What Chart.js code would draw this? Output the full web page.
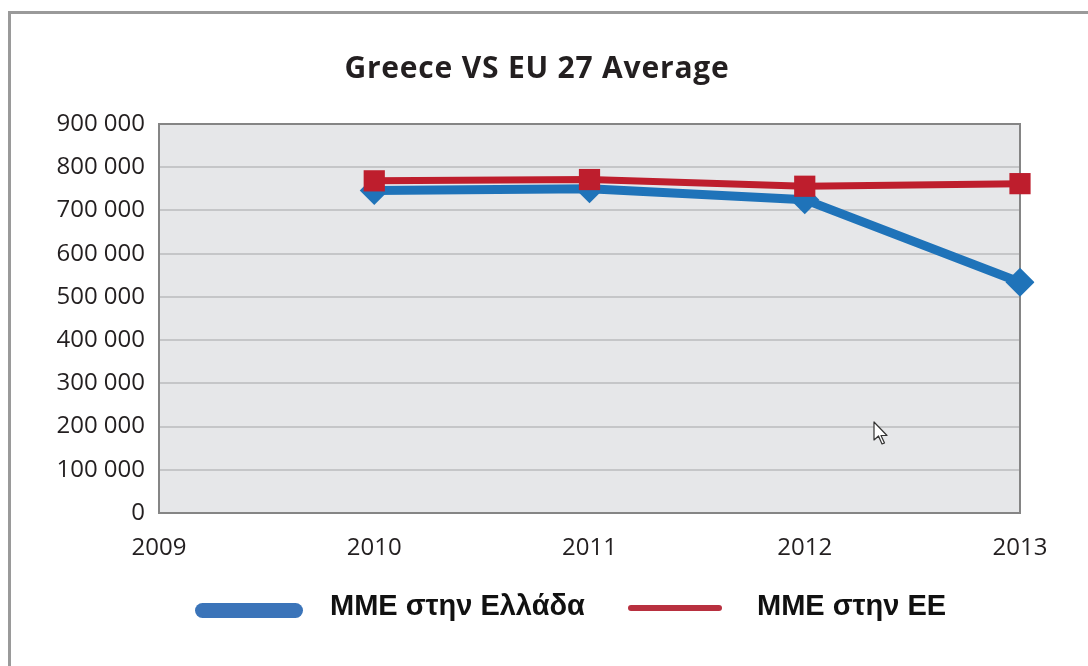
<!DOCTYPE html>
<html>
<head>
<meta charset="utf-8">
<script src="https://cdn.jsdelivr.net/npm/chart.js@4"></script>
<style>
  html, body { margin: 0; padding: 0; background: #fff; overflow: hidden; }
  #wrap { position: relative; width: 1088px; height: 666px; }
  #frame { position: absolute; left: 8px; top: 11px; width: 1100px; height: 700px;
           border: 3px solid #9a9a9a; box-sizing: border-box; }
  #chart { position: absolute; left: 0; top: 0; }
  #title { position: absolute; left: 0; width: 1074px; top: 49px; text-align: center;
           font-family: "Open Sans", sans-serif; font-weight: bold; font-size: 30px;
           letter-spacing: 0.8px; color: #231f20; line-height: 1.2; white-space: nowrap; }
  .legend-item { position: absolute; font-family: "Liberation Sans", Arial, sans-serif;
                 font-weight: bold; font-size: 29px; color: #111; line-height: 1; white-space: nowrap; }
  .legend-swatch { position: absolute; }
  #cursor { position: absolute; left: 872px; top: 420px; }
</style>
</head>
<body>
<div id="wrap">
  <div id="frame"></div>
  <canvas id="chart" width="1088" height="666"></canvas>
  <div id="title">Greece VS EU 27 Average</div>
  <div id="legend"></div>
  <svg id="cursor" width="20" height="28" viewBox="0 0 20 28">
    <path d="M2 2 L2 20 L6.5 16 L10 24 L12.5 23 L9 15.5 L15 15.5 Z" fill="#fff" stroke="#333" stroke-width="1.2" stroke-linejoin="round"/>
  </svg>
</div>
<script>
// Years on the x axis
const years = ['2009', '2010', '2011', '2012', '2013'];

// Series values (2009 has no data)
const greeceValues = [null, 746000, 750000, 725000, 534000];
const euValues = [null, 768500, 771500, 756000, 762000];

// Y axis range
const yTicks = [0, 100000, 200000, 300000, 400000, 500000, 600000, 700000, 800000, 900000];

const seriesNames = ['ΜΜΕ στην Ελλάδα', 'ΜΜΕ στην ΕΕ'];
const blue = '#1f73b9';
const red = '#be1e2d';

// Formats 900000 as "900 000"
function formatThousands(v) {
    return String(v).replace(/\B(?=(\d{3})+(?!\d))/g, ' ');
}

// Gray plot background and frame around the chart area
const plotFrame = {
    id: 'plotFrame',
    beforeDraw(chart) {
        const { ctx, chartArea: a } = chart;
        ctx.save();
        ctx.fillStyle = '#e6e7e9';
        ctx.fillRect(a.left, a.top, a.right - a.left, a.bottom - a.top);
        ctx.restore();
    },
    beforeDatasetsDraw(chart) {
        const { ctx, chartArea: a } = chart;
        ctx.save();
        ctx.strokeStyle = '#858585';
        ctx.lineWidth = 2;
        ctx.strokeRect(a.left, a.top, a.right - a.left, a.bottom - a.top);
        ctx.restore();
    }
};

const ctx = document.getElementById('chart').getContext('2d');
const chart = new Chart(ctx, {
    type: 'line',
    data: {
        labels: years,
        datasets: [
            {
                label: seriesNames[0],
                data: greeceValues,
                borderColor: blue,
                backgroundColor: blue,
                borderWidth: 9,
                pointStyle: 'rectRot',
                pointRadius: 14.5,
                pointBorderWidth: 0,
                tension: 0,
                order: 1
            },
            {
                label: seriesNames[1],
                data: euValues,
                borderColor: red,
                backgroundColor: red,
                borderWidth: 7,
                pointStyle: 'rect',
                pointRadius: 15,
                pointBorderWidth: 0,
                tension: 0,
                order: 0
            }
        ]
    },
    options: {
        responsive: false,
        devicePixelRatio: 1,
        animation: false,
        layout: { padding: { top: 124, left: 0, right: 68, bottom: 0 } },
        plugins: {
            legend: { display: false },
            tooltip: { enabled: false },
            title: { display: false }
        },
        scales: {
            x: {
                offset: false,
                grid: { display: false, drawTicks: false },
                border: { display: false },
                ticks: {
                    color: '#231f20',
                    font: { family: 'Open Sans', size: 24 },
                    padding: 21,
                    maxRotation: 0
                },
                afterFit(scale) { scale.height = 153; }
            },
            y: {
                min: yTicks[0],
                max: yTicks[yTicks.length - 1],
                afterBuildTicks(scale) { scale.ticks = yTicks.map(v => ({ value: v })); },
                grid: { color: '#c5c6c8', lineWidth: 2, drawTicks: false },
                border: { display: false },
                ticks: {
                    color: '#231f20',
                    font: { family: 'Open Sans', size: 24 },
                    padding: 14,
                    callback: v => formatThousands(v)
                },
                afterFit(scale) { scale.width = 159; }
            }
        }
    },
    plugins: [plotFrame]
});

// Legend under the chart
const legend = document.getElementById('legend');
const legendItems = [
    { name: seriesNames[0], color: '#3b74b9', x: 195, w: 108, h: 15, y: 603, textX: 330 },
    { name: seriesNames[1], color: '#b8303f', x: 628, w: 94, h: 6, y: 605, textX: 757 }
];
legendItems.forEach(item => {
    const sw = document.createElement('div');
    sw.className = 'legend-swatch';
    sw.style.left = item.x + 'px';
    sw.style.top = item.y + 'px';
    sw.style.width = item.w + 'px';
    sw.style.height = item.h + 'px';
    sw.style.background = item.color;
    sw.style.borderRadius = (item.h / 2) + 'px';
    legend.appendChild(sw);

    const label = document.createElement('div');
    label.className = 'legend-item';
    label.style.left = item.textX + 'px';
    label.style.top = '591px';
    label.textContent = item.name;
    legend.appendChild(label);
});
</script>
</body>
</html>
